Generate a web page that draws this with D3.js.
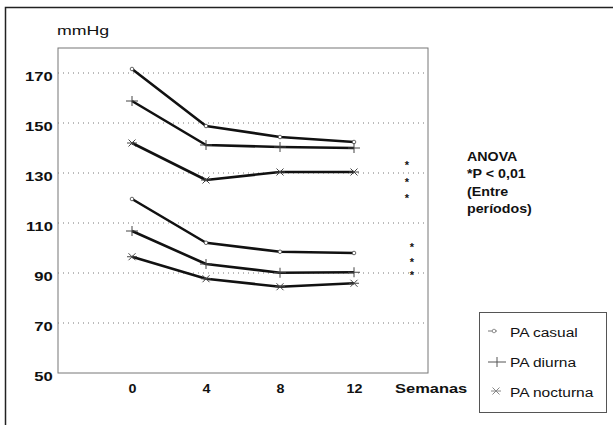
<!DOCTYPE html>
<html>
<head>
<meta charset="utf-8">
<script src="https://cdn.jsdelivr.net/npm/d3@7"></script>
<style>
  html, body { margin: 0; padding: 0; background: #fff; }
  svg text { font-family: "Liberation Sans", Arial, sans-serif; fill: #111; }
</style>
</head>
<body>
<div id="chart"></div>
<script>
// Weeks on the x axis
const weeks = [0, 4, 8, 12];
const yTicks = [50, 70, 90, 110, 130, 150, 170];

// Systolic group (top three lines)
const casualSys = [171.6, 148.8, 144.4, 142.4];
const diurnaSys = [158.8, 141.2, 140.4, 140.0];
const nocturnaSys = [142.0, 127.2, 130.4, 130.4];
// Diastolic group (bottom three lines)
const casualDia = [119.6, 102.1, 98.5, 98.0];
const diurnaDia = [106.8, 93.6, 90.1, 90.3];
const nocturnaDia = [96.5, 87.7, 84.5, 85.9];

const legendLabels = ['PA casual', 'PA diurna', 'PA nocturna'];
const noteLines = ['ANOVA', '*P < 0,01', '(Entre', 'períodos)'];

const W = 613, H = 425;
const svg = d3.select('#chart').append('svg').attr('width', W).attr('height', H);

// the scanned figure has horizontally stretched lettering
function label(g, tx, ty, str, size, bold, sx, anchor) {
  return g.append('text')
    .attr('transform', `translate(${tx},${ty}) scale(${sx},1)`)
    .attr('text-anchor', anchor || 'start')
    .style('font-size', size + 'px')
    .style('font-weight', bold ? 'bold' : 'normal')
    .text(str);
}

// outer figure frame (only top & left visible)
svg.append('path').attr('d', `M5.5,${H} V7.5 H${W}`)
  .attr('fill', 'none').attr('stroke', '#222').attr('stroke-width', 1.5);

const plot = { left: 58, right: 428, top: 48, bottom: 373 };
const x = d3.scaleLinear().domain([-4, 16]).range([plot.left, plot.right]);
const y = d3.scaleLinear().domain([50, 180]).range([plot.bottom, plot.top]);

// gridlines
svg.append('g')
  .selectAll('line')
  .data(yTicks.filter(t => t > 50))
  .enter().append('line')
  .attr('x1', plot.left).attr('x2', plot.right)
  .attr('y1', d => y(d)).attr('y2', d => y(d))
  .attr('stroke', '#777').attr('stroke-width', 1)
  .attr('stroke-dasharray', '1,4');

// plot frame
svg.append('rect')
  .attr('x', plot.left).attr('y', plot.top)
  .attr('width', plot.right - plot.left).attr('height', plot.bottom - plot.top)
  .attr('fill', 'none').attr('stroke', '#777').attr('stroke-width', 1);

// y axis labels
const yAxis = svg.append('g')
  .attr('transform', `translate(${plot.left},0)`)
  .call(d3.axisLeft(y).tickValues(yTicks).tickSize(0).tickPadding(4));
yAxis.select('.domain').remove();
yAxis.selectAll('text')
  .attr('dy', '0.55em')
  .attr('transform', 'scale(1.28,1)')
  .style('font-family', '"Liberation Sans", Arial, sans-serif')
  .style('font-size', '13px').style('font-weight', 'bold').attr('fill', '#111');

// x axis labels
const xAxis = svg.append('g')
  .attr('transform', `translate(0,${plot.bottom})`)
  .call(d3.axisBottom(x).tickValues(weeks).tickSize(0).tickPadding(11));
xAxis.select('.domain').remove();
xAxis.selectAll('text')
  .attr('transform', 'scale(1.1,1)')
  .style('font-family', '"Liberation Sans", Arial, sans-serif')
  .style('font-size', '13px').style('font-weight', 'bold').attr('fill', '#111');

label(svg, 395, 393, 'Semanas', 13.5, true, 1.22);
label(svg, 57, 35, 'mmHg', 12.5, false, 1.42);

// markers
function marker(g, type, cx, cy, color, s) {
  s = s || 1;
  if (type === 'circle') {
    g.append('circle').attr('cx', cx).attr('cy', cy).attr('r', 1.8)
      .attr('fill', '#fff').attr('stroke', color).attr('stroke-width', 0.8);
  } else if (type === 'plus') {
    g.append('path').attr('d', `M${cx - 6 * s},${cy} H${cx + 6 * s} M${cx},${cy - 5} V${cy + 5}`)
      .attr('stroke', color).attr('stroke-width', 1);
  } else {
    const r = 5, d = r * 0.7;
    g.append('path')
      .attr('d', `M${cx - r},${cy} H${cx + r} M${cx - d},${cy - d} L${cx + d},${cy + d} M${cx - d},${cy + d} L${cx + d},${cy - d}`)
      .attr('stroke', color).attr('stroke-width', 1);
  }
}

const series = [
  { values: casualSys, type: 'circle' },
  { values: diurnaSys, type: 'plus' },
  { values: nocturnaSys, type: 'star' },
  { values: casualDia, type: 'circle' },
  { values: diurnaDia, type: 'plus' },
  { values: nocturnaDia, type: 'star' }
];

const line = d3.line().x((d, i) => x(weeks[i])).y(d => y(d));

series.forEach(s => {
  svg.append('path').datum(s.values)
    .attr('fill', 'none').attr('stroke', '#111').attr('stroke-width', 2.6)
    .attr('stroke-linejoin', 'round')
    .attr('d', line);
  const g = svg.append('g');
  s.values.forEach((v, i) => marker(g, s.type, x(weeks[i]), y(v), '#444'));
});

// significance stars
const starsTop = [163, 180, 196];
const starsBottom = [245, 260, 273];
starsTop.forEach(sy => svg.append('text').attr('x', 407).attr('y', sy + 6)
  .attr('text-anchor', 'middle').style('font-size', '11px').style('font-weight', 'bold').text('*'));
starsBottom.forEach(sy => svg.append('text').attr('x', 412).attr('y', sy + 6)
  .attr('text-anchor', 'middle').style('font-size', '11px').style('font-weight', 'bold').text('*'));

// ANOVA note
const note = svg.append('g');
noteLines.forEach((t, i) => label(note, 467, 161 + i * 17.3, t, 12.5, true, 1.14));

// legend
const lg = svg.append('g');
lg.append('rect').attr('x', 479.5).attr('y', 312.5).attr('width', 127).attr('height', 100)
  .attr('fill', '#fff').attr('stroke', '#555').attr('stroke-width', 1);
const legendTypes = ['circle', 'plus', 'star'];
legendLabels.forEach((lab, i) => {
  const cy = 332 + i * 30;
  if (legendTypes[i] === 'circle') {
    lg.append('line').attr('x1', 488).attr('x2', 497).attr('y1', cy - 1).attr('y2', cy - 1)
      .attr('stroke', '#777').attr('stroke-width', 1);
    marker(lg, 'circle', 494, cy - 1, '#777');
  } else if (legendTypes[i] === 'plus') {
    marker(lg, 'plus', 497, cy, '#555', 1.5);
  } else {
    marker(lg, 'star', 496, cy - 1, '#888');
  }
  label(lg, 510, cy + 5, lab, 13.5, false, 1.15);
});
</script>
</body>
</html>
